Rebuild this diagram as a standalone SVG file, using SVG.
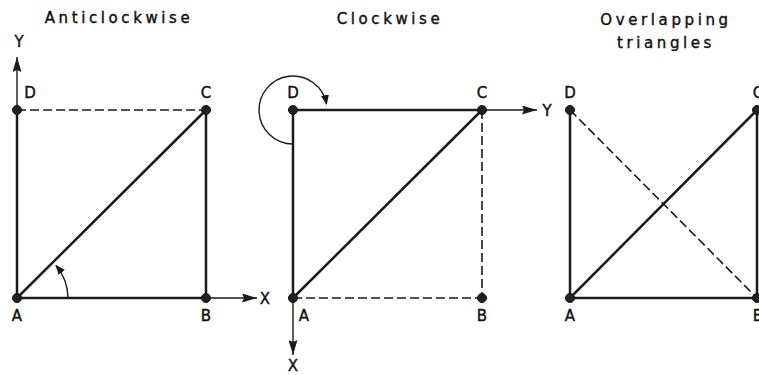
<svg xmlns="http://www.w3.org/2000/svg" width="759" height="375" viewBox="0 0 759 375">
<style>
.bg{fill:#fff}
.edge{stroke:#1a1a1a;stroke-width:2.5;fill:none;stroke-linecap:round}
.dash{stroke:#1a1a1a;stroke-width:1.6;fill:none;stroke-dasharray:9 4}
.axis{stroke:#1a1a1a;stroke-width:1.4;fill:none}
.dot{fill:#222;stroke:#111;stroke-width:1}
.lbl{font-family:"DejaVu Sans",sans-serif;font-size:15px;fill:#111;stroke:#111;stroke-width:0.4;text-anchor:middle}
.title{font-family:"DejaVu Sans",sans-serif;font-size:15px;fill:#111;stroke:#111;stroke-width:0.4;text-anchor:middle;letter-spacing:3.6px}
</style>
<defs>
<marker id="arr" markerUnits="userSpaceOnUse" markerWidth="15" markerHeight="9" refX="15" refY="4.5" orient="auto">
<path d="M0,0 L15,4.5 L0,9 L2,4.5 z" fill="#1a1a1a"/>
</marker>
<marker id="arrs" markerUnits="userSpaceOnUse" markerWidth="10" markerHeight="8" refX="9" refY="4" orient="auto">
<path d="M0,0 L10,4 L0,8 z" fill="#1a1a1a"/>
</marker>
</defs>
<rect class="bg" x="0" y="0" width="759" height="375"/>

<text class="title" x="119" y="23">Anticlockwise</text>
<text class="title" x="390" y="24">Clockwise</text>
<text class="title" x="666" y="25">Overlapping</text>
<text class="title" x="666" y="48">triangles</text>

<g id="connectors">
  <!-- Panel 1 -->
  <line class="edge" x1="17" y1="110" x2="17" y2="298"/>
  <line class="edge" x1="17" y1="298" x2="206" y2="298"/>
  <line class="edge" x1="17" y1="298" x2="206" y2="110"/>
  <line class="edge" x1="206" y1="110" x2="206" y2="298"/>
  <line class="dash" x1="17" y1="110" x2="206" y2="110"/>
  <line class="axis" x1="17" y1="110" x2="17" y2="57" marker-end="url(#arr)"/>
  <line class="axis" x1="206" y1="298" x2="257" y2="298" marker-end="url(#arr)"/>
  <path class="axis" d="M68,298 A51,51 0 0 0 56,265.5" marker-end="url(#arrs)"/>
  <!-- Panel 2 -->
  <line class="edge" x1="293" y1="110" x2="482" y2="110"/>
  <line class="edge" x1="293" y1="110" x2="293" y2="298"/>
  <line class="edge" x1="293" y1="298" x2="482" y2="110"/>
  <line class="dash" x1="482" y1="110" x2="482" y2="298"/>
  <line class="dash" x1="293" y1="298" x2="482" y2="298"/>
  <line class="axis" x1="482" y1="110" x2="537" y2="110" marker-end="url(#arr)"/>
  <line class="axis" x1="293" y1="298" x2="293" y2="355" marker-end="url(#arr)"/>
  <path class="axis" d="M293,144 A34,34 0 1 1 326.5,104.1" marker-end="url(#arrs)"/>
  <!-- Panel 3 -->
  <line class="edge" x1="570" y1="110" x2="570" y2="298"/>
  <line class="edge" x1="570" y1="298" x2="757" y2="298"/>
  <line class="edge" x1="570" y1="298" x2="757" y2="110"/>
  <line class="edge" x1="757" y1="110" x2="757" y2="298"/>
  <line class="dash" x1="570" y1="110" x2="757" y2="298"/>
</g>

<g id="p1-axis-labels">
  <text class="lbl" x="19" y="47">Y</text>
  <text class="lbl" x="265" y="304">X</text>
</g>
<g id="p1-A"><circle class="dot" cx="17" cy="298" r="4.5"/><text class="lbl" x="17" y="321">A</text></g>
<g id="p1-B"><circle class="dot" cx="206" cy="298" r="4.5"/><text class="lbl" x="206" y="321">B</text></g>
<g id="p1-C"><circle class="dot" cx="206" cy="110" r="4.5"/><text class="lbl" x="206" y="98">C</text></g>
<g id="p1-D"><circle class="dot" cx="17" cy="110" r="4.5"/><text class="lbl" x="30" y="98">D</text></g>

<g id="p2-axis-labels">
  <text class="lbl" x="547" y="116">Y</text>
  <text class="lbl" x="293" y="371">X</text>
</g>
<g id="p2-A"><circle class="dot" cx="293" cy="298" r="4.5"/><text class="lbl" x="304" y="321">A</text></g>
<g id="p2-B"><circle class="dot" cx="482" cy="298" r="4.5"/><text class="lbl" x="482" y="321">B</text></g>
<g id="p2-C"><circle class="dot" cx="482" cy="110" r="4.5"/><text class="lbl" x="482" y="98">C</text></g>
<g id="p2-D"><circle class="dot" cx="293" cy="110" r="4.5"/><text class="lbl" x="293" y="98">D</text></g>

<g id="p3-A"><circle class="dot" cx="570" cy="298" r="4.5"/><text class="lbl" x="570" y="321">A</text></g>
<g id="p3-B"><circle class="dot" cx="757" cy="298" r="4.5"/><text class="lbl" x="758" y="321">B</text></g>
<g id="p3-C"><circle class="dot" cx="757" cy="110" r="4.5"/><text class="lbl" x="758" y="98">C</text></g>
<g id="p3-D"><circle class="dot" cx="570" cy="110" r="4.5"/><text class="lbl" x="570" y="98">D</text></g>
</svg>
